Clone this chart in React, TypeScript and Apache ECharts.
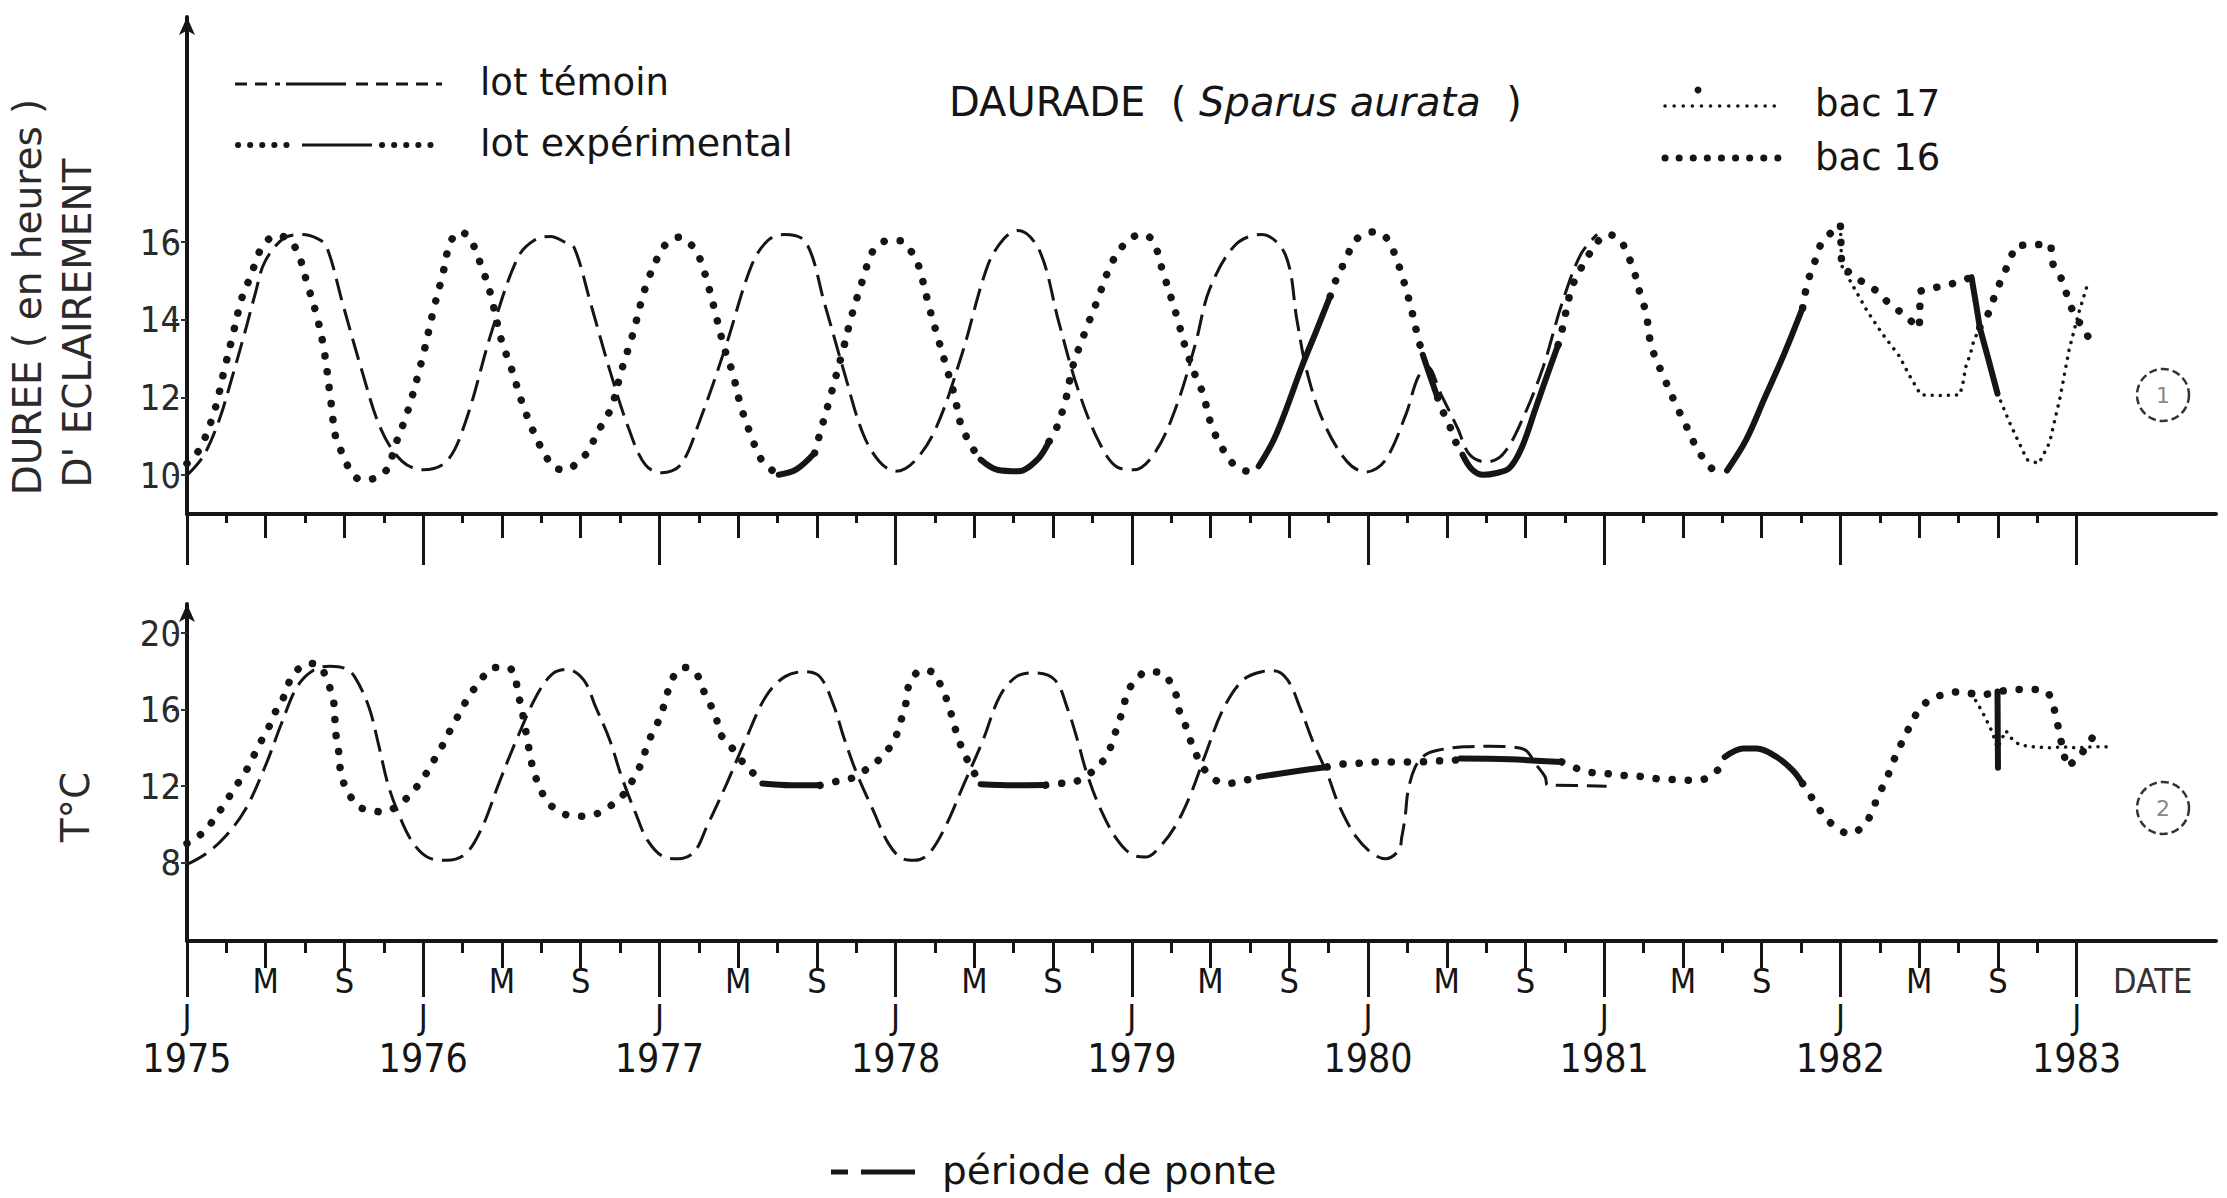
import React, { useEffect, useRef } from 'react';
import * as echarts from 'echarts';

// ---------- axes ----------
const X_MIN = 1975;
const X_MAX = 1983.59;
const YEARS = [1975, 1976, 1977, 1978, 1979, 1980, 1981, 1982, 1983];
const yearLabels = ['1975', '1976', '1977', '1978', '1979', '1980', '1981', '1982', '1983'];
const monthLetters = ['M', 'S'];
const photoTicks = [10, 12, 14, 16];
const tempTicks = [8, 12, 16, 20];

// ---------- photoperiod (hours) ----------
const photoTemoin = [
  [1975.00, 10.0], [1975.07, 10.5], [1975.135, 11.4], [1975.19, 12.5], [1975.246, 13.7], [1975.29, 14.7],
  [1975.33, 15.5], [1975.41, 16.1], [1975.49, 16.2], [1975.55, 16.1], [1975.59, 15.9], [1975.66, 14.4],
  [1975.74, 12.7], [1975.82, 11.2], [1975.91, 10.36], [1976.00, 10.14], [1976.10, 10.36], [1976.18, 11.39],
  [1976.29, 13.7], [1976.40, 15.6], [1976.47, 16.05], [1976.54, 16.15], [1976.60, 16.0], [1976.64, 15.85],
  [1976.71, 14.4], [1976.79, 12.7], [1976.87, 11.2], [1976.94, 10.27], [1977.01, 10.06], [1977.09, 10.27],
  [1977.17, 11.39], [1977.28, 13.3], [1977.39, 15.4], [1977.46, 16.05], [1977.53, 16.2], [1977.62, 16.0],
  [1977.70, 14.4], [1977.78, 12.7], [1977.86, 11.1], [1977.93, 10.36], [1978.00, 10.1], [1978.08, 10.36],
  [1978.17, 11.2], [1978.28, 13.1], [1978.39, 15.4], [1978.46, 16.1], [1978.52, 16.3], [1978.61, 15.77],
  [1978.69, 13.96], [1978.77, 12.25], [1978.86, 10.87], [1978.94, 10.2], [1979.01, 10.14], [1979.10, 10.6],
  [1979.19, 11.8], [1979.27, 13.4], [1979.33, 14.8], [1979.44, 15.94], [1979.55, 16.2], [1979.65, 15.68],
  [1979.70, 13.96], [1979.74, 12.7], [1979.81, 11.39], [1979.91, 10.36], [1979.99, 10.08], [1980.07, 10.36],
  [1980.16, 11.56], [1980.21, 12.5], [1980.25, 12.8], [1980.31, 12.07], [1980.38, 11.2], [1980.43, 10.53],
  [1980.50, 10.34], [1980.57, 10.53], [1980.65, 11.39], [1980.74, 12.76], [1980.82, 14.4], [1980.90, 15.68],
  [1980.97, 16.2],
];

const photoExp = [
  [1975.00, 10.3], [1975.04, 10.55], [1975.07, 10.87], [1975.12, 11.73], [1975.157, 12.69], [1975.196, 13.66],
  [1975.23, 14.52], [1975.26, 14.99], [1975.29, 15.47], [1975.32, 15.9], [1975.38, 16.18], [1975.43, 16.07],
  [1975.47, 15.72], [1975.51, 14.91], [1975.55, 14.09], [1975.58, 13.23], [1975.61, 11.86], [1975.63, 10.96],
  [1975.66, 10.53], [1975.69, 10.14], [1975.736, 9.88], [1975.80, 9.93], [1975.85, 10.18], [1975.88, 10.74],
  [1975.934, 11.64], [1975.995, 12.98], [1976.045, 14.29], [1976.083, 15.18], [1976.114, 15.98], [1976.155, 16.27],
  [1976.196, 16.11], [1976.243, 15.44], [1976.284, 14.69], [1976.33, 13.5], [1976.375, 12.72], [1976.417, 11.9],
  [1976.466, 11.13], [1976.52, 10.48], [1976.56, 10.18], [1976.61, 10.14], [1976.656, 10.36], [1976.706, 10.66],
  [1976.73, 11.04], [1976.775, 11.47], [1976.805, 11.9], [1976.838, 12.67], [1976.885, 13.58], [1976.94, 14.82],
  [1976.995, 15.64], [1977.03, 15.96], [1977.086, 16.13], [1977.14, 15.9], [1977.17, 15.6], [1977.21, 14.82],
  [1977.243, 14.03], [1977.274, 13.29], [1977.31, 12.63], [1977.345, 11.77], [1977.384, 11.09], [1977.436, 10.36],
  [1977.505, 10.01], [1977.58, 10.15], [1977.657, 10.57], [1977.684, 11.17], [1977.72, 11.94], [1977.78, 13.29],
  [1977.814, 14.11], [1977.858, 14.98], [1977.896, 15.68], [1977.924, 15.92], [1977.968, 16.04], [1978.02, 16.04],
  [1978.06, 15.81], [1978.09, 15.51], [1978.11, 15.12], [1978.144, 14.29], [1978.18, 13.52], [1978.216, 12.76],
  [1978.25, 12.03], [1978.277, 11.3], [1978.326, 10.7], [1978.36, 10.4], [1978.43, 10.14], [1978.52, 10.1],
  [1978.60, 10.4], [1978.65, 10.87], [1978.676, 11.13], [1978.72, 11.94], [1978.75, 12.8], [1978.80, 13.66],
  [1978.855, 14.52], [1978.905, 15.34], [1978.94, 15.72], [1978.988, 16.07], [1979.043, 16.2], [1979.09, 16.03],
  [1979.13, 15.27], [1979.19, 14.1], [1979.227, 13.29], [1979.27, 12.55], [1979.30, 12.12], [1979.336, 11.3],
  [1979.364, 10.91], [1979.40, 10.53], [1979.44, 10.23], [1979.496, 10.1], [1979.537, 10.23], [1979.60, 10.9],
  [1979.66, 11.8], [1979.72, 12.8], [1979.78, 13.7], [1979.84, 14.61], [1979.87, 15.12], [1979.90, 15.47],
  [1979.95, 16.07], [1980.03, 16.27], [1980.075, 16.13], [1980.108, 15.77], [1980.152, 14.98], [1980.185, 14.24],
  [1980.212, 13.53], [1980.232, 13.1], [1980.26, 12.6], [1980.295, 11.99], [1980.317, 11.64], [1980.345, 11.28],
  [1980.367, 10.91], [1980.40, 10.53], [1980.44, 10.15], [1980.488, 10.01], [1980.54, 10.05], [1980.598, 10.18],
  [1980.65, 10.7], [1980.71, 11.73], [1980.76, 12.6], [1980.805, 13.36], [1980.82, 13.7], [1980.86, 14.78],
  [1980.888, 15.17], [1980.935, 15.68], [1980.97, 16.0], [1981.012, 16.2], [1981.067, 16.07], [1981.094, 15.72],
  [1981.12, 15.38], [1981.155, 14.61], [1981.177, 14.18], [1981.20, 13.32], [1981.254, 12.5], [1981.31, 11.73],
  [1981.342, 11.34], [1981.37, 10.96], [1981.40, 10.61], [1981.43, 10.36], [1981.466, 10.14], [1981.52, 10.12],
  [1981.60, 10.9], [1981.68, 12.0], [1981.76, 13.1], [1981.84, 14.31], [1981.86, 14.95], [1981.88, 15.3],
  [1981.90, 15.64], [1981.92, 15.98], [1981.96, 16.24], [1982.00, 16.41],
];
const photoExpPonte = [
  [1977.505, 1977.657], [1978.36, 1978.65], [1979.537, 1979.84], [1980.232, 1980.295], [1980.40, 1980.805], [1981.52, 1981.84],
];

const photoBac16 = [
  [1982.00, 16.41], [1982.005, 15.4], [1982.045, 15.17], [1982.10, 14.95], [1982.155, 14.74], [1982.196, 14.48],
  [1982.246, 14.24], [1982.293, 14.0], [1982.334, 13.79], [1982.338, 14.74], [1982.39, 14.82], [1982.45, 14.89],
  [1982.51, 15.0], [1982.555, 15.1], [1982.573, 14.45], [1982.59, 13.8], [1982.63, 14.2], [1982.65, 14.57],
  [1982.68, 15.03], [1982.71, 15.43], [1982.74, 15.9], [1982.79, 15.93], [1982.89, 15.95], [1982.90, 15.43],
  [1982.93, 15.15], [1982.95, 14.8], [1982.99, 14.1], [1983.02, 13.87], [1983.05, 13.55],
];
const photoBac16Ponte = [[1982.555, 1982.59]];

const photoBac17 = [
  [1982.00, 16.41], [1982.005, 15.4], [1982.06, 14.8], [1982.114, 14.22], [1982.18, 13.62], [1982.25, 13.06],
  [1982.29, 12.59], [1982.34, 12.07], [1982.42, 12.05], [1982.505, 12.07], [1982.517, 12.31], [1982.53, 12.78],
  [1982.55, 13.12], [1982.565, 13.47], [1982.59, 13.8], [1982.628, 12.95], [1982.665, 12.1], [1982.72, 11.3],
  [1982.79, 10.4], [1982.84, 10.3], [1982.885, 10.83], [1982.93, 12.0], [1982.968, 13.23], [1983.01, 14.2],
  [1983.05, 14.99],
];
const photoBac17Ponte = [[1982.59, 1982.665]];

// ---------- temperature (°C) ----------
const tempTemoin = [
  [1975.00, 7.9], [1975.08, 8.46], [1975.16, 9.34], [1975.245, 10.73], [1975.33, 13.0], [1975.40, 15.27],
  [1975.466, 17.19], [1975.535, 18.06], [1975.604, 18.27], [1975.67, 18.15], [1975.71, 17.71], [1975.77, 16.14],
  [1975.81, 14.22], [1975.85, 12.13], [1975.89, 10.73], [1975.95, 9.16], [1976.017, 8.29], [1976.10, 8.12],
  [1976.18, 8.46], [1976.25, 9.86], [1976.32, 12.13], [1976.40, 14.57], [1976.485, 16.84], [1976.55, 17.89],
  [1976.61, 18.1], [1976.68, 17.54], [1976.73, 16.14], [1976.79, 14.4], [1976.84, 12.48], [1976.90, 10.56],
  [1976.95, 9.16], [1977.02, 8.29], [1977.08, 8.2], [1977.147, 8.55], [1977.20, 9.86], [1977.285, 12.13],
  [1977.37, 14.57], [1977.45, 16.67], [1977.53, 17.71], [1977.615, 17.98], [1977.68, 17.71], [1977.74, 16.14],
  [1977.78, 14.57], [1977.836, 12.65], [1977.905, 10.73], [1977.97, 8.99], [1978.03, 8.2], [1978.08, 8.12],
  [1978.14, 8.46], [1978.21, 9.86], [1978.29, 12.13], [1978.37, 14.4], [1978.44, 16.67], [1978.51, 17.71],
  [1978.59, 17.92], [1978.675, 17.54], [1978.73, 15.97], [1978.77, 14.4], [1978.81, 12.65], [1978.87, 10.73],
  [1978.94, 9.16], [1979.007, 8.38], [1979.06, 8.29], [1979.13, 8.99], [1979.19, 10.03], [1979.25, 11.6],
  [1979.31, 13.6], [1979.386, 16.0], [1979.47, 17.54], [1979.55, 17.98], [1979.60, 18.03], [1979.66, 17.54],
  [1979.716, 15.97], [1979.77, 14.22], [1979.827, 12.65], [1979.88, 10.91], [1979.95, 9.34], [1980.02, 8.46],
  [1980.075, 8.2], [1980.13, 8.64], [1980.143, 9.34], [1980.157, 10.38], [1980.17, 11.78], [1980.20, 13.0],
  [1980.24, 13.61], [1980.295, 13.87], [1980.405, 14.05], [1980.516, 14.08], [1980.598, 14.05], [1980.667, 13.87],
  [1980.708, 13.18], [1980.75, 12.48], [1980.76, 12.04], [1980.79, 12.04], [1981.01, 11.99],
];

const tempExp = [
  [1975.00, 9.0], [1975.025, 9.16], [1975.08, 9.72], [1975.12, 10.38], [1975.16, 11.08], [1975.20, 11.87],
  [1975.245, 12.69], [1975.28, 13.52], [1975.314, 14.35], [1975.35, 15.18], [1975.378, 15.97], [1975.41, 16.67],
  [1975.433, 17.45], [1975.466, 18.06], [1975.516, 18.41], [1975.56, 18.32], [1975.59, 17.63], [1975.61, 16.93],
  [1975.623, 16.23], [1975.626, 15.53], [1975.63, 14.75], [1975.64, 14.05], [1975.645, 13.32], [1975.653, 12.6],
  [1975.673, 11.87], [1975.70, 11.31], [1975.728, 10.91], [1975.777, 10.73], [1975.83, 10.65], [1975.885, 10.91],
  [1975.935, 11.43], [1975.98, 12.08], [1976.017, 12.74], [1976.053, 13.52], [1976.09, 14.31], [1976.12, 15.06],
  [1976.155, 15.83], [1976.188, 16.58], [1976.224, 17.23], [1976.26, 17.8], [1976.298, 18.2], [1976.36, 18.2],
  [1976.39, 17.63], [1976.40, 16.84], [1976.417, 16.14], [1976.425, 15.48], [1976.436, 14.75], [1976.447, 14.0],
  [1976.458, 13.26], [1976.47, 12.65], [1976.494, 11.95], [1976.52, 11.26], [1976.563, 10.77], [1976.615, 10.47],
  [1976.678, 10.42], [1976.747, 10.61], [1976.80, 11.03], [1976.857, 11.69], [1976.89, 12.39], [1976.926, 13.26],
  [1976.948, 14.14], [1976.976, 14.92], [1977.004, 15.62], [1977.023, 16.4], [1977.042, 17.19], [1977.064, 17.8],
  [1977.106, 18.2], [1977.147, 18.03], [1977.174, 17.45], [1977.196, 16.7], [1977.224, 16.06], [1977.243, 15.44],
  [1977.257, 14.75], [1977.298, 14.14], [1977.334, 13.56], [1977.367, 13.04], [1977.41, 12.51], [1977.436, 12.13],
  [1977.56, 12.04], [1977.68, 12.04], [1977.74, 12.22], [1977.81, 12.39], [1977.86, 12.74], [1977.924, 13.32],
  [1977.968, 13.91], [1978.0, 14.57], [1978.023, 15.44], [1978.042, 16.23], [1978.05, 17.01], [1978.07, 17.63],
  [1978.11, 18.06], [1978.166, 17.89], [1978.19, 17.28], [1978.216, 16.53], [1978.235, 15.79], [1978.25, 15.1],
  [1978.268, 14.4], [1978.29, 13.7], [1978.318, 13.04], [1978.346, 12.39], [1978.36, 12.1], [1978.50, 12.04],
  [1978.635, 12.05], [1978.676, 12.13], [1978.74, 12.16], [1978.80, 12.48], [1978.855, 13.0], [1978.897, 13.66],
  [1978.924, 14.57], [1978.944, 15.31], [1978.966, 16.14], [1978.98, 16.93], [1979.02, 17.54], [1979.06, 17.98],
  [1979.125, 17.92], [1979.164, 17.4], [1979.19, 16.67], [1979.20, 15.97], [1979.227, 15.18], [1979.247, 14.43],
  [1979.27, 13.72], [1979.30, 13.0], [1979.344, 12.39], [1979.40, 12.13], [1979.468, 12.27], [1979.537, 12.48],
  [1979.68, 12.75], [1979.827, 13.0], [1979.88, 13.14], [1979.95, 13.18], [1980.02, 13.26], [1980.09, 13.26],
  [1980.157, 13.26], [1980.22, 13.26], [1980.28, 13.32], [1980.35, 13.32], [1980.39, 13.44], [1980.60, 13.4],
  [1980.82, 13.26], [1980.86, 13.04], [1980.93, 12.74], [1981.01, 12.65], [1981.08, 12.56], [1981.15, 12.51],
  [1981.22, 12.39], [1981.29, 12.34], [1981.356, 12.3], [1981.43, 12.39], [1981.48, 12.83], [1981.51, 13.52],
  [1981.59, 13.96], [1981.645, 13.96], [1981.73, 13.52], [1981.797, 12.83], [1981.84, 12.13], [1981.866, 11.64],
  [1981.90, 10.99], [1981.935, 10.38], [1981.98, 9.86], [1982.037, 9.51], [1982.10, 9.95], [1982.136, 10.73],
  [1982.16, 11.52], [1982.19, 12.22], [1982.215, 13.0], [1982.238, 13.7], [1982.27, 14.54], [1982.30, 15.27],
  [1982.33, 15.93], [1982.38, 16.53], [1982.44, 16.8], [1982.50, 16.93], [1982.555, 16.84],
];
const tempExpPonte = [
  [1977.436, 1977.68], [1978.36, 1978.635], [1979.537, 1979.827], [1980.39, 1980.82], [1981.51, 1981.84],
];

const tempBac16 = [
  [1982.555, 16.84], [1982.60, 16.75], [1982.64, 16.85], [1982.665, 16.95], [1982.75, 17.05], [1982.83, 17.05],
  [1982.88, 16.9], [1982.90, 16.3], [1982.915, 15.5], [1982.93, 14.6], [1982.945, 13.7], [1982.96, 13.0],
  [1983.0, 13.4], [1983.04, 14.0], [1983.07, 14.6], [1983.095, 15.1],
];
const tempBac17 = [
  [1982.555, 16.84], [1982.60, 15.9], [1982.64, 14.9], [1982.665, 14.0], [1982.70, 14.9], [1982.73, 14.4],
  [1982.76, 14.15], [1982.82, 14.05], [1982.88, 14.0], [1982.94, 14.05], [1983.0, 14.0], [1983.06, 14.05],
  [1983.12, 14.05], [1983.155, 14.08],
];
const tempPonte1982 = [[1982.665, 16.95], [1982.667, 12.96]];

// ---------- helpers ----------
const INK = '#151515';
const SANS = "'DejaVu Sans', 'Liberation Sans', sans-serif";
const NARROW = "'Liberation Sans Narrow', 'DejaVu Sans Condensed', 'DejaVu Sans', sans-serif";

function outside(pts: number[][], ranges: number[][]) {
  const res: any[] = [];
  for (const p of pts) {
    const inner = ranges.some(([a, b]) => p[0] > a && p[0] < b);
    if (inner) {
      if (res.length && res[res.length - 1][1] !== '-') res.push([p[0], '-']);
    } else res.push(p);
  }
  return res;
}
function inside(pts: number[][], ranges: number[][]) {
  const res: any[] = [];
  for (const p of pts) {
    const inR = ranges.some(([a, b]) => p[0] >= a && p[0] <= b);
    if (inR) res.push(p);
    else if (res.length && res[res.length - 1][1] !== '-') res.push([p[0], '-']);
  }
  return res;
}

const DASH = { color: INK, width: 3, type: [22, 9] };
const BIGDOT = { color: INK, width: 7.5, type: [0.1, 16], cap: 'round' };
const FINEDOT = { color: INK, width: 3.5, type: [0.1, 8], cap: 'round' };
const SOLID = { color: INK, width: 6, type: 'solid', cap: 'round' };

function line(data: any[], xi: number, yi: number, lineStyle: any, smooth: any = 0.35, z = 3) {
  return {
    type: 'line', data, xAxisIndex: xi, yAxisIndex: yi, smooth, showSymbol: false, symbol: 'none',
    silent: true, connectNulls: false, z, lineStyle,
  };
}

const msTicks = YEARS.slice(0, -1).flatMap((y) => [y + 1 / 3, y + 2 / 3]);
const minorTicks = YEARS.slice(0, -1).flatMap((y) => [y + 1 / 6, y + 1 / 2, y + 5 / 6]);

function xAx(gridIndex: number, ticks: number[], len: number, opts: any = {}) {
  return {
    type: 'value', gridIndex, min: X_MIN, max: X_MAX, position: 'bottom',
    axisLine: { show: !!opts.line, onZero: false, lineStyle: { color: INK, width: 4 } },
    axisTick: { show: ticks.length > 0, customValues: ticks, length: len, lineStyle: { color: INK, width: 3 } },
    axisLabel: opts.label ? opts.label : { show: false },
    splitLine: { show: false },
  };
}

function yAx(gridIndex: number, min: number, max: number, ticks: number[]) {
  return {
    type: 'value', gridIndex, min, max,
    axisLine: {
      show: true, onZero: false, symbol: ['none', 'arrow'], symbolSize: [12, 18],
      lineStyle: { color: INK, width: 4 },
    },
    axisTick: { show: true, customValues: ticks, length: 18, lineStyle: { color: '#333', width: 2, type: [6, 3] } },
    axisLabel: { show: true, customValues: ticks, margin: 6, fontSize: 36, fontFamily: NARROW, color: '#2a2a2a' },
    splitLine: { show: false },
  };
}

function buildOption() {
  const labelBase = { show: true, fontFamily: NARROW, color: INK, verticalAlign: 'middle' };
  const xAxis = [
    xAx(0, YEARS, 51, { line: true }),
    xAx(0, msTicks, 24),
    xAx(0, minorTicks, 9),
    xAx(1, YEARS, 56, {
      line: true,
      label: { ...labelBase, customValues: YEARS, margin: 76, fontSize: 34, formatter: () => 'J' },
    }),
    xAx(1, msTicks, 27, {
      label: {
        ...labelBase, customValues: msTicks, margin: 40, fontSize: 34,
        formatter: (v: number) => {
          const k = Math.round((v - Math.floor(v + 1e-6)) * 3);
          return monthLetters[k - 1] || '';
        },
      },
    }),
    xAx(1, minorTicks, 12),
    xAx(1, [], 0, {
      label: {
        ...labelBase, customValues: YEARS, margin: 117, fontSize: 39,
        formatter: (v: number) => yearLabels[Math.round(v) - 1975],
      },
    }),
  ];

  const series = [
    // photoperiod
    line(photoTemoin, 0, 0, DASH),
    line(outside(photoExp, photoExpPonte), 0, 0, BIGDOT),
    line(inside(photoExp, photoExpPonte), 0, 0, SOLID, 0.35, 5),
    line(outside(photoBac16, photoBac16Ponte), 0, 0, BIGDOT, false),
    line(inside(photoBac16, photoBac16Ponte), 0, 0, SOLID, false, 5),
    line(outside(photoBac17, photoBac17Ponte), 0, 0, FINEDOT, false),
    line(inside(photoBac17, photoBac17Ponte), 0, 0, SOLID, false, 5),
    // temperature
    line(tempTemoin, 3, 1, DASH),
    line(outside(tempExp, tempExpPonte), 3, 1, BIGDOT),
    line(inside(tempExp, tempExpPonte), 3, 1, SOLID, 0.35, 5),
    line(tempBac16, 3, 1, BIGDOT, false),
    line(tempBac17, 3, 1, FINEDOT, false),
    line(tempPonte1982, 3, 1, SOLID, false, 5),
  ];

  const txt = (x: number, y: number, text: string, fontSize: number, extra: any = {}, el: any = {}) => ({
    type: 'text', x, y, silent: true, ...el,
    style: {
      text, fontSize, fontFamily: SANS, fill: INK,
      align: 'left', textAlign: 'left', verticalAlign: 'middle', textVerticalAlign: 'middle', ...extra,
    },
  });
  const seg = (x1: number, y1: number, x2: number, y2: number, style: any) => ({
    type: 'line', silent: true, shape: { x1, y1, x2, y2 }, style: { stroke: INK, ...style },
  });
  const dots = (w: number, gap: number) => ({ lineWidth: w, lineDash: [0.1, gap], lineCap: 'round' });

  const graphic = [
    // legend: lot témoin
    seg(235, 84, 280, 84, { lineWidth: 3, lineDash: [12, 8] }),
    seg(286, 84, 346, 84, { lineWidth: 3 }),
    seg(356, 84, 442, 84, { lineWidth: 3, lineDash: [12, 8] }),
    txt(480, 82, 'lot témoin', 37),
    // legend: lot expérimental
    seg(238, 145, 296, 145, dots(6, 12)),
    seg(302, 145, 372, 145, { lineWidth: 3 }),
    seg(382, 145, 442, 145, dots(6, 12)),
    txt(480, 143, 'lot expérimental', 38),
    // title
    {
      type: 'text', x: 949, y: 102, silent: true,
      style: {
        text: '{n|DAURADE  ( }{i|Sparus aurata}{n|  )}',
        fill: INK, fontFamily: SANS, fontSize: 40,
        align: 'left', textAlign: 'left', verticalAlign: 'middle', textVerticalAlign: 'middle',
        rich: {
          n: { fontSize: 40, fontFamily: SANS, fill: INK },
          i: { fontSize: 40, fontFamily: SANS, fontStyle: 'italic', fill: INK },
        },
      },
    },
    // legend: bac 17 / bac 16
    seg(1665, 106, 1778, 106, dots(3.5, 9)),
    { type: 'circle', silent: true, shape: { cx: 1698, cy: 90, r: 3.5 }, style: { fill: INK } },
    txt(1815, 103, 'bac 17', 37),
    seg(1665, 158, 1778, 158, dots(7, 14)),
    txt(1815, 157, 'bac 16', 37),
    // axis titles
    txt(27, 297, 'DUREE ( en heures )', 39, { align: 'center', textAlign: 'center', fill: '#2a2a2a' }, { rotation: Math.PI / 2 }),
    txt(77, 323, "D' ECLAIREMENT", 39, { align: 'center', textAlign: 'center', fill: '#2a2a2a' }, { rotation: Math.PI / 2 }),
    txt(75, 807, 'T°C', 39, { align: 'center', textAlign: 'center', fill: '#2a2a2a' }, { rotation: Math.PI / 2 }),
    txt(2113, 981, 'DATE', 34, { fontFamily: NARROW, fill: '#333' }),
    // circled panel numbers
    { type: 'circle', silent: true, shape: { cx: 2163, cy: 395, r: 26 }, style: { fill: 'none', stroke: '#333', lineWidth: 2.5, lineDash: [8, 4] } },
    txt(2163, 395, '1', 22, { align: 'center', textAlign: 'center', fill: '#888' }),
    { type: 'circle', silent: true, shape: { cx: 2163, cy: 808, r: 26 }, style: { fill: 'none', stroke: '#333', lineWidth: 2.5, lineDash: [8, 4] } },
    txt(2163, 808, '2', 22, { align: 'center', textAlign: 'center', fill: '#888' }),
    // legend: période de ponte
    seg(831, 1172, 848, 1172, { lineWidth: 5 }),
    seg(861, 1172, 915, 1172, { lineWidth: 5 }),
    txt(942, 1170, 'période de ponte', 39),
  ];

  return {
    animation: false,
    backgroundColor: '#ffffff',
    grid: [
      { left: 187, top: 17, width: 2029, height: 497, containLabel: false },
      { left: 187, top: 604, width: 2029, height: 337, containLabel: false },
    ],
    xAxis,
    yAxis: [yAx(0, 9, 21.8, photoTicks), yAx(1, 3.9, 21.52, tempTicks)],
    series,
    graphic: { elements: graphic },
  };
}

export default function App() {
  const ref = useRef<HTMLDivElement>(null);
  useEffect(() => {
    if (!ref.current) return;
    const chart = echarts.init(ref.current, null, { renderer: 'svg' });
    chart.setOption(buildOption() as any);
    return () => chart.dispose();
  }, []);
  return (
    <div
      ref={ref}
      style={{ position: 'fixed', left: 0, top: 0, width: 2227, height: 1198, background: '#fff' }}
    />
  );
}
